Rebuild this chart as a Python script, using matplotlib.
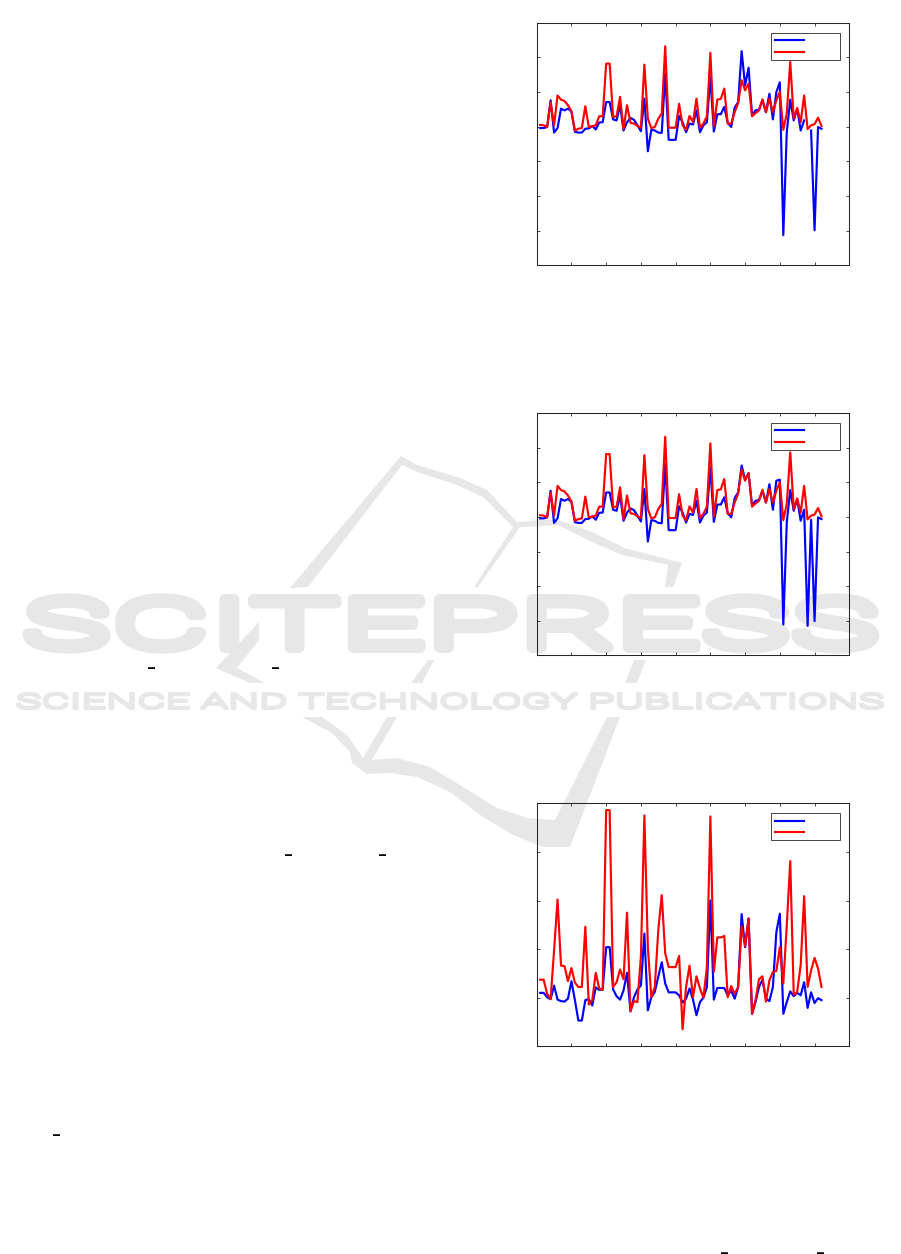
import numpy as np
import matplotlib
matplotlib.use("Agg")
import matplotlib.pyplot as plt
from matplotlib.patches import Polygon
from matplotlib.patheffects import AbstractPathEffect
from matplotlib.transforms import Affine2D

nan = float("nan")

xvals = list(range(1, 83))

blue_a = [-0.04,-0.04,-0.01,0.76,-0.17,-0.04,0.52,0.47,0.52,0.44,
 -0.15,-0.17,-0.17,-0.06,-0.05,0.02,-0.08,0.12,0.13,0.71,
 0.71,0.21,0.18,0.62,-0.11,0.13,0.25,0.20,0.04,-0.13,
 0.81,-0.71,-0.09,-0.11,-0.17,-0.18,1.53,-0.38,-0.38,-0.38,
 0.31,0.13,-0.16,0.09,0.06,0.47,-0.16,0.04,0.13,1.43,
 -0.14,0.36,0.36,0.57,0.11,-0.01,0.55,0.71,2.18,1.19,
 1.70,0.33,0.47,0.49,0.76,0.42,0.95,0.21,1.00,1.28,
 -3.13,-0.15,0.78,0.18,0.52,-0.11,0.18,nan,-0.11,-2.99,-0.01,-0.06]
red_a = [0.05,0.04,-0.01,0.71,0.04,0.90,0.78,0.74,0.62,0.45,
 -0.11,-0.06,-0.04,0.59,-0.01,0.01,0.04,0.30,0.30,1.82,
 1.82,0.28,0.30,0.86,-0.06,0.62,0.11,0.09,0.02,-0.03,
 1.79,0.23,-0.04,-0.01,0.23,0.38,2.32,-0.03,-0.03,-0.03,
 0.66,0.04,-0.09,0.31,0.13,0.81,-0.03,0.09,0.30,2.13,
 0.01,0.78,0.80,1.10,0.09,0.09,0.42,0.68,1.34,1.05,
 1.24,0.30,0.39,0.47,0.79,0.42,0.81,0.42,0.76,1.00,
 -0.09,0.38,1.87,0.23,0.54,0.13,0.90,-0.07,0.04,0.07,0.26,0.02]

blue_b = [-0.04,-0.04,-0.01,0.76,-0.17,-0.04,0.52,0.47,0.52,0.44,
 -0.15,-0.17,-0.17,-0.06,-0.05,0.02,-0.08,0.12,0.13,0.71,
 0.71,0.21,0.18,0.62,-0.11,0.13,0.25,0.20,0.04,-0.13,
 0.81,-0.71,-0.09,-0.11,-0.17,-0.18,1.53,-0.38,-0.38,-0.38,
 0.31,0.13,-0.16,0.09,0.06,0.47,-0.16,0.04,0.13,1.43,
 -0.14,0.36,0.36,0.57,0.11,-0.01,0.55,0.71,1.49,1.08,
 1.27,0.33,0.47,0.49,0.76,0.42,0.95,0.21,1.05,1.08,
 -3.11,-0.15,0.78,0.18,0.52,-0.11,0.21,-3.15,-0.08,-3.01,-0.01,-0.06]
red_b = [0.05,0.04,-0.01,0.71,0.04,0.90,0.78,0.74,0.62,0.45,
 -0.11,-0.06,-0.04,0.59,-0.01,0.01,0.04,0.30,0.30,1.82,
 1.82,0.28,0.30,0.86,-0.06,0.62,0.11,0.09,0.02,-0.03,
 1.79,0.23,-0.04,-0.01,0.23,0.38,2.32,-0.03,-0.03,-0.03,
 0.66,0.04,-0.09,0.31,0.13,0.81,-0.03,0.09,0.30,2.13,
 0.01,0.78,0.80,1.10,0.09,0.09,0.42,0.68,1.37,1.05,
 1.27,0.30,0.39,0.47,0.79,0.42,0.81,0.42,0.76,1.00,
 -0.09,0.38,1.87,0.23,0.54,0.13,0.90,-0.07,0.04,0.07,0.26,0.02]

blue_c = [0.10,0.10,0.01,-0.03,0.25,-0.04,-0.07,-0.08,-0.02,0.34,
 -0.05,-0.47,-0.47,-0.05,-0.03,-0.16,0.21,0.16,0.17,1.04,
 1.04,0.17,0.03,-0.04,0.15,0.51,-0.28,0.01,0.17,0.25,
 1.32,-0.26,0.01,0.12,0.43,0.73,0.29,0.11,0.11,0.11,
 0.05,-0.10,-0.02,0.19,-0.04,-0.36,-0.09,0.00,0.22,2.00,
 -0.04,0.20,0.20,0.20,0.05,0.15,-0.02,0.22,1.72,1.04,
 1.63,-0.33,-0.09,0.22,0.37,-0.02,-0.07,0.22,1.35,1.73,
 -0.33,-0.09,0.13,0.03,0.10,0.05,0.32,-0.21,0.11,-0.11,-0.01,-0.05]
red_c = [0.37,0.37,0.08,-0.03,0.97,2.02,0.66,0.65,0.34,0.61,
 0.31,0.22,0.22,1.46,-0.14,-0.05,0.51,0.19,0.16,3.86,
 3.86,0.22,0.32,0.58,0.38,1.75,-0.28,-0.07,-0.09,0.84,
 3.75,1.04,0.01,0.22,1.39,2.11,0.91,0.63,0.63,0.63,
 0.86,-0.65,0.22,0.66,0.01,0.44,0.19,0.00,0.63,3.73,
 0.53,1.24,1.24,1.27,0.01,0.24,0.08,0.22,1.47,1.06,
 1.63,-0.33,-0.05,0.38,0.44,-0.08,0.36,0.53,0.55,1.04,
 0.29,1.49,2.81,0.06,0.12,0.67,2.09,0.22,0.56,0.82,0.60,0.22]

xticks = [10, 20, 30, 40, 50, 60, 70, 80]
yticks_ab = [-3, -2, -1, 0, 1, 2]
yticks_c = [0, 1, 2, 3]

W, H = 901, 1254
fig = plt.figure(figsize=(W / 100, H / 100), dpi=100, facecolor="white")

WM = "#e6e7e6"
INK = "#262626"


def fx(px):
    return px / W


def fy(py):
    return 1 - py / H


class StretchStroke(AbstractPathEffect):
    def __init__(self, sx, stroke_px):
        super().__init__()
        self.sx = sx
        self.stroke = stroke_px

    def draw_path(self, renderer, gc, tpath, affine, rgbFace=None):
        gc0 = renderer.new_gc()
        gc0.copy_properties(gc)
        gc0.set_linewidth(self.stroke * 0.72)
        gc0.set_foreground(rgbFace)
        gc0.set_joinstyle("round")
        renderer.draw_path(gc0, tpath, Affine2D().scale(self.sx, 1) + affine, rgbFace)
        gc0.restore()


def wordmark(s, x0, x1, base, cap, stroke):
    size = (cap - stroke) / 0.711 * 0.72
    t = fig.text(fx(x0 + stroke / 2), fy(base - stroke / 2), s, fontsize=size, color=WM,
                 fontweight=300, family="Roboto", ha="left", va="baseline", zorder=-2)
    w = t.get_window_extent(fig.canvas.get_renderer()).width
    t.set_path_effects([StretchStroke((x1 - x0 - stroke) / w, stroke)])


wordmark("SCITEPRESS", 16, 885, 653, 59, 11)
wordmark("SCIENCE AND TECHNOLOGY PUBLICATIONS", 14, 885, 710, 18, 3.2)

logo_shapes = [
    [(290,588),(401,456),(417,465),(460,478),(487,490),(517,522),(540,520),(558,520),
     (592,532),(625,548),(682,563),(673,587),(665,587),(668,565),(622,555),(588,540),
     (558,525),(525,527),(520,527),(478,587),(474,587),(513,527),(483,497),(457,485),
     (417,472),(402,465),(308,587)],
    [(259,622),(216,668),(250,683),(265,683),(237,668),(259,640)],
    [(438,639),(445,639),(439,652)],
    [(428,660),(434,660),(422,683),(411,683)],
    [(634,660),(646,660),(637,683),(625,683)],
    [(302,717),(332,733),(350,752),(352,763),(367,774),(390,773),(417,777),(450,792),
     (483,817),(513,835),(543,847),(570,847),(620,717),(607,717),(555,820),(527,818),
     (497,808),(463,787),(430,767),(397,758),(372,760),(397,717),(387,717),(363,758),
     (347,735),(322,717)],
]
for pts in logo_shapes:
    arr = np.array(pts, dtype=float)
    fig.add_artist(Polygon(np.column_stack([arr[:, 0] / W, 1 - arr[:, 1] / H]),
                           closed=True, facecolor=WM, edgecolor="none",
                           transform=fig.transFigure, zorder=-1))

underscores = [(148, 665.7), (272, 665.7), (285, 852.8), (379, 852.8),
               (53, 1132.8), (721, 1250.5), (817, 1250.5)]
for ux, uy in underscores:
    fig.text(fx(ux), fy(uy), "_", fontsize=10, color="black", family="DejaVu Sans",
             fontweight="bold", ha="left", va="baseline")


def panel(top, bottom, blue, red, ylim, yticks, leg_top):
    left, right = 536.7, 849.3
    ax = fig.add_axes([fx(left), fy(bottom), (right - left) / W, (bottom - top) / H])
    ax.patch.set_alpha(0)
    ax.plot(xvals, blue, color="#0000ff", lw=1.55, label=" ")
    ax.plot(xvals, red, color="#ff0000", lw=1.55, label=" ")
    ax.set_xlim(0, 90)
    ax.set_ylim(*ylim)
    ax.set_xticks(xticks)
    ax.set_yticks(yticks)
    ax.tick_params(direction="in", length=2.4, width=0.6, color=INK, top=True, right=True,
                   labelbottom=False, labelleft=False)
    for sp in ax.spines.values():
        sp.set_linewidth(0.75)
        sp.set_color(INK)
    leg = ax.legend(loc="upper right",
                    bbox_to_anchor=((840.3 - left) / (right - left), 1 - (leg_top - top) / (bottom - top)),
                    borderaxespad=0, fontsize=5.5, handlelength=3.8, handletextpad=4.0,
                    borderpad=0.45, labelspacing=0.3, fancybox=False, framealpha=1,
                    edgecolor=INK)
    leg.get_frame().set_linewidth(0.6)
    return ax


panel(22.7, 265.3, blue_a, red_a, (-4, 3), yticks_ab, 32.7)
panel(413.3, 655.3, blue_b, red_b, (-4, 3), yticks_ab, 422.7)
panel(803.3, 1046.3, blue_c, red_c, (-1, 4), yticks_c, 813.3)

fig.savefig("out.png", dpi=100)
